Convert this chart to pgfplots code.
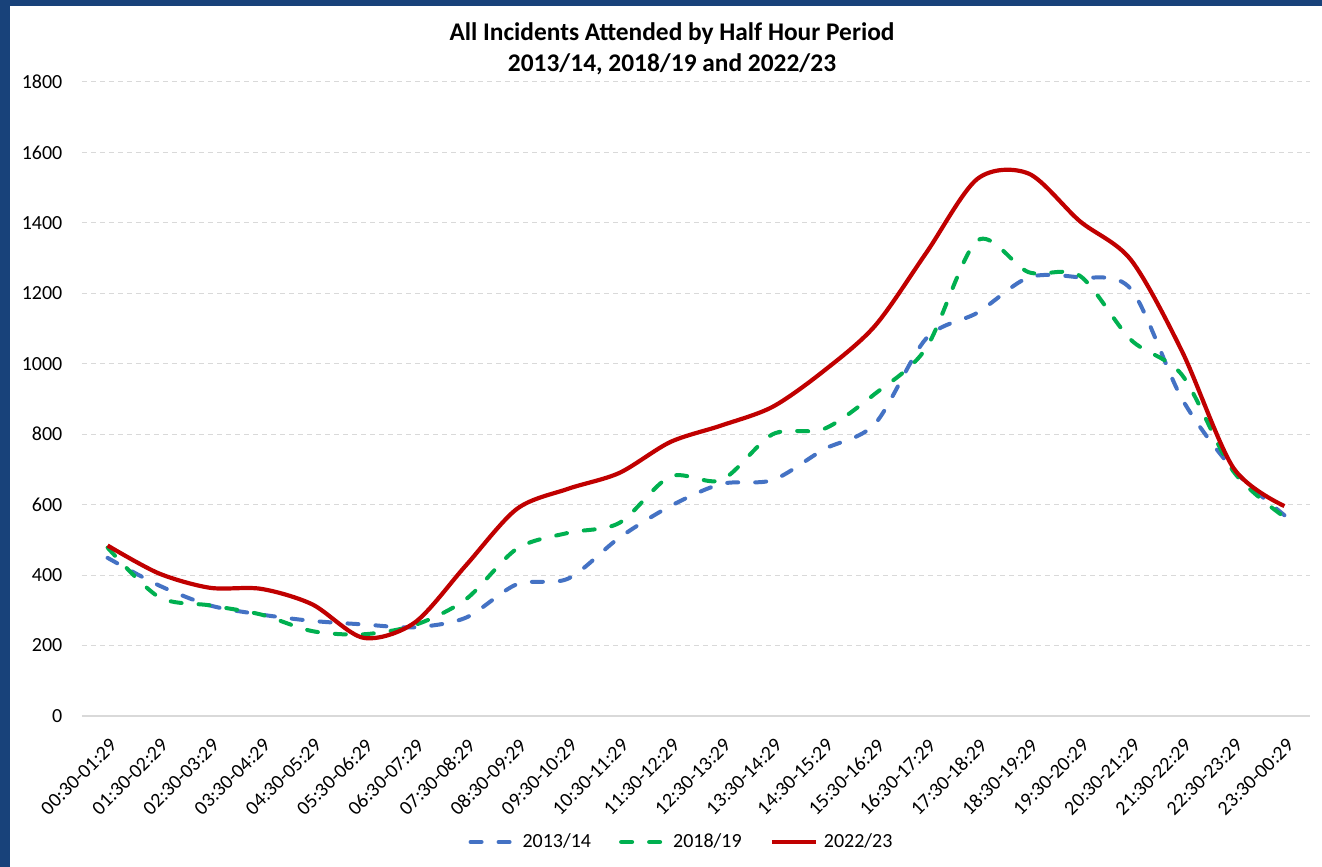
\documentclass[border=0pt]{standalone}
\usepackage{pgfplots}
\pgfplotsset{compat=1.18}
\usepackage{fontspec}
\setmainfont{Carlito}
\definecolor{frameblue}{RGB}{24,66,122}
\definecolor{cblue}{HTML}{4472C4}
\definecolor{cgreen}{HTML}{00B050}
\definecolor{cred}{HTML}{C00000}
\definecolor{gridgray}{HTML}{D9D9D9}
\begin{document}
\begin{tikzpicture}
\useasboundingbox (0pt,0pt) rectangle (661pt,433.5pt);
\fill[white] (0pt,0pt) rectangle (661pt,433.5pt);
\fill[frameblue] (0pt,0pt) rectangle (5pt,433.5pt);
\fill[frameblue] (0pt,430.5pt) rectangle (661pt,433.5pt);
\node[font=\bfseries\fontsize{12.7}{15}\selectfont] at (336pt,416.5pt) {All Incidents Attended by Half Hour Period};
\node[font=\bfseries\fontsize{12.7}{15}\selectfont] at (336pt,401.5pt) {2013/14, 2018/19 and 2022/23};
\begin{axis}[
  at={(41pt,75.5pt)}, anchor=south west,
  scale only axis, width=614pt, height=317pt,
  xmin=-0.5, xmax=23.5, ymin=0, ymax=1800,
  ytick={0,200,...,1800},
  xtick={0,...,23},
  xticklabels={00:30-01:29,01:30-02:29,02:30-03:29,03:30-04:29,04:30-05:29,05:30-06:29,06:30-07:29,07:30-08:29,08:30-09:29,09:30-10:29,10:30-11:29,11:30-12:29,12:30-13:29,13:30-14:29,14:30-15:29,15:30-16:29,16:30-17:29,17:30-18:29,18:30-19:29,19:30-20:29,20:30-21:29,21:30-22:29,22:30-23:29,23:30-00:29},
  /pgf/number format/assume math mode=true,
  /pgf/number format/1000 sep={},
  axis line style={draw=none},
  major tick length=0pt,
  ymajorgrids,
  grid style={gridgray, line width=0.5pt, dash pattern=on 2.5pt off 2pt},
  yticklabel style={font=\fontsize{10}{11}\selectfont, color=black, xshift=-6.3pt},
  xticklabel style={font=\fontsize{10}{11}\selectfont, color=black, inner sep=0pt, xshift=3pt, yshift=-13pt, rotate=45, anchor=east},
  clip=false,
  legend style={at={(0.489,-0.1987)}, anchor=center, draw=none, fill=none, legend columns=3,
    font=\fontsize{10}{11}\selectfont,
    /tikz/every even column/.append style={column sep=12pt},
    /tikz/every odd column/.append style={column sep=1pt},
    legend cell align=left, inner sep=0pt},
  legend image code/.code={\draw[#1] (0pt,0pt) -- (22pt,0pt);},
]
\draw[gridgray, line width=0.6pt] (axis cs:-0.5,0) -- (axis cs:23.5,0);
\addplot[cblue, line width=2pt, line cap=round, dash pattern=on 5.5pt off 8.5pt, smooth] coordinates {
(0,449) (1,371) (2,314) (3,288) (4,270) (5,260) (6,252) (7,279) (8,374) (9,390) (10,506) (11,596) (12,659) (13,670) (14,757) (15,830) (16,1072) (17,1145) (18,1245) (19,1245) (20,1212) (21,900) (22,700) (23,570)};
\addlegendentry{2013/14}
\addplot[cgreen, line width=2pt, line cap=round, dash pattern=on 5.5pt off 8.5pt, smooth] coordinates {
(0,478) (1,338) (2,314) (3,288) (4,241) (5,232) (6,258) (7,331) (8,475) (9,520) (10,548) (11,680) (12,670) (13,800) (14,815) (15,915) (16,1045) (17,1350) (18,1260) (19,1250) (20,1068) (21,968) (22,695) (23,565)};
\addlegendentry{2018/19}
\addplot[cred, line width=2.1pt, smooth] coordinates {
(0,484) (1,405) (2,364) (3,361) (4,317) (5,222) (6,265) (7,427) (8,588) (9,645) (10,690) (11,778) (12,825) (13,878) (14,980) (15,1108) (16,1315) (17,1525) (18,1540) (19,1405) (20,1295) (21,1035) (22,705) (23,596)};
\addlegendentry{2022/23}
\end{axis}
\end{tikzpicture}
\end{document}
